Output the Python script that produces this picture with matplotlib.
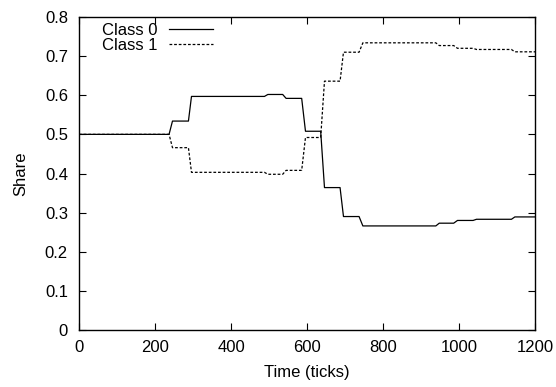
import matplotlib
matplotlib.use('Agg')
import matplotlib.pyplot as plt

plt.rcParams['font.family'] = ['Liberation Sans', 'DejaVu Sans']

# time points (ticks) and class shares
ticks = [0, 237, 246, 288, 296, 488, 497, 536, 545, 586, 596, 636, 646, 687, 696,
         737, 747, 939, 948, 986, 996, 1037, 1046, 1138, 1147, 1200]
class0 = [0.5, 0.5, 0.534, 0.534, 0.597, 0.597, 0.602, 0.602, 0.592, 0.592, 0.508,
          0.508, 0.364, 0.364, 0.290, 0.290, 0.266, 0.266, 0.273, 0.273, 0.280,
          0.280, 0.283, 0.283, 0.289, 0.289]
class1 = [0.5, 0.5, 0.466, 0.466, 0.403, 0.403, 0.398, 0.398, 0.408, 0.408, 0.492,
          0.492, 0.636, 0.636, 0.710, 0.710, 0.734, 0.734, 0.727, 0.727, 0.720,
          0.720, 0.717, 0.717, 0.711, 0.711]

xticks = [0, 200, 400, 600, 800, 1000, 1200]
yticks = [0, 0.1, 0.2, 0.3, 0.4, 0.5, 0.6, 0.7, 0.8]

dpi = 100
fig = plt.figure(figsize=(556/dpi, 387/dpi), dpi=dpi)
ax = fig.add_axes([79/556, 1 - 330/387, 456/556, 313/387])

ax.plot(ticks, class0, color='black', lw=0.9, label='Class 0')
ax.plot(ticks, class1, color='black', lw=0.9, linestyle=(0, (2.2, 1.5)), label='Class 1')

ax.set_xlim(0, 1200)
ax.set_ylim(0, 0.8)
ax.set_xticks(xticks)
ax.set_yticks(yticks)
ax.set_xticklabels([str(v) for v in xticks])
ax.set_yticklabels(['0', '0.1', '0.2', '0.3', '0.4', '0.5', '0.6', '0.7', '0.8'])
ax.tick_params(direction='in', top=True, right=True, length=5, width=0.8,
               labelsize=12)
ax.tick_params(axis='x', pad=7.5)
ax.tick_params(axis='y', pad=8)
for s in ax.spines.values():
    s.set_linewidth(1.0)

ax.set_xlabel('Time (ticks)', fontsize=12, labelpad=7)
ax.set_ylabel('Share', fontsize=12, labelpad=12)

ax.legend(loc='upper left', bbox_to_anchor=(0.028, 1.014), frameon=False,
          markerfirst=False, fontsize=12, handlelength=2.65, handletextpad=0.7,
          labelspacing=0.0, borderaxespad=0.2)

plt.savefig('out.png', dpi=dpi)
